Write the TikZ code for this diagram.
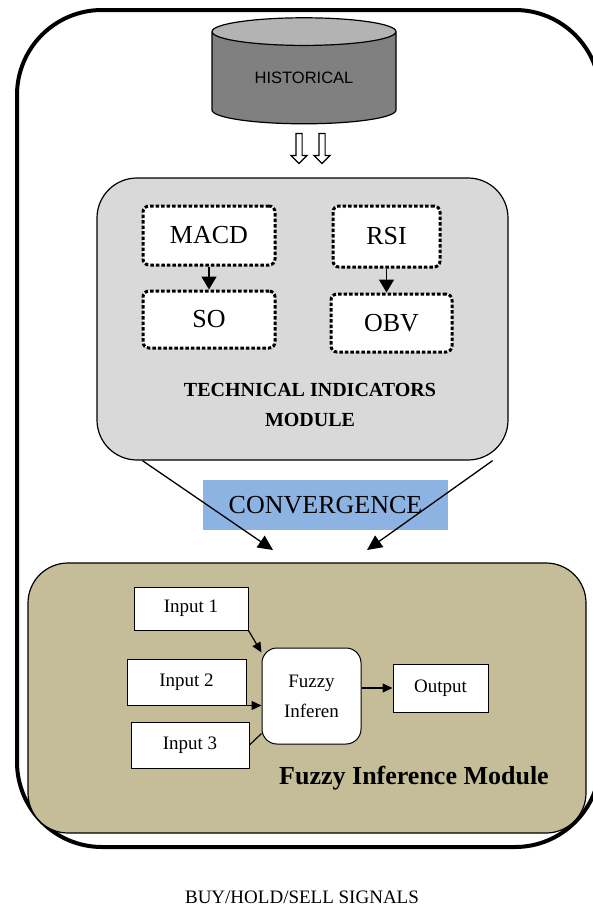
\documentclass[tikz,border=0pt]{standalone}
\usepackage{fontspec}
\setmainfont{Liberation Serif}
\newfontfamily\histfont{Liberation Sans}
\usepackage{xcolor}
\usepackage{tikz}
\usetikzlibrary{shapes.geometric}
\usetikzlibrary{shapes.arrows}
\usetikzlibrary{arrows.meta}
\definecolor{tiGray}{HTML}{D9D9D9}
\definecolor{fimTan}{HTML}{C4BD97}
\definecolor{convBlue}{HTML}{8DB3E2}
\definecolor{dbBody}{HTML}{808080}
\definecolor{dbTop}{HTML}{B3B3B3}

\begin{document}
\begin{tikzpicture}[x=1pt, y=-1pt,
	module/.style={draw, line width=1.2pt, rounded corners=40pt},
	indbox/.style={draw, fill=white, line width=3pt, dash pattern=on 3.5pt off 2pt, rounded corners=6pt, font=\fontsize{26}{30}\selectfont},
	plainbox/.style={draw, fill=white, line width=1pt, font=\fontsize{19}{22}\selectfont},
	hollow/.style={single arrow, draw, fill=white, line width=1.2pt, shape border rotate=270, minimum height=30pt, minimum width=0pt, single arrow head extend=5pt, inner sep=2.5pt},
	drop/.style={-{Triangle[length=13pt,width=15pt]}, line width=1.5pt},
	conv/.style={-{Triangle[length=15pt,width=14pt]}, line width=1.3pt},
	link/.style={-{Triangle[length=10pt,width=9pt]}, line width=1.2pt}]
	\useasboundingbox (0,0) rectangle (593,910);
	\draw[line width=4pt, rounded corners=85pt] (17,10) rectangle (600,847);
	% data source
	\node[cylinder, shape border rotate=90, aspect=0.28, draw, line width=1.2pt, cylinder uses custom fill, cylinder body fill=dbBody, cylinder end fill=dbTop, minimum width=184pt, minimum height=106pt, inner sep=0pt, font=\histfont\fontsize{16.5}{18}\selectfont] (hist) at (304,78) {HISTORICAL};
	\foreach \x in {299,322}
		\node[hollow] (h\x) at (\x,147) {};
	% technical indicators
	\node[module, fill=tiGray, minimum width=411pt, minimum height=282pt] (tim) at (302.5,319) {};
	\node[indbox, minimum width=132pt, minimum height=59pt] (macd) at (209,235.5) {MACD};
	\node[indbox, minimum width=132pt, minimum height=57pt] (so) at (209,319.5) {SO};
	\node[indbox, minimum width=107pt, minimum height=61pt] (rsi) at (386.5,236.5) {RSI};
	\node[indbox, minimum width=121pt, minimum height=58pt] (obv) at (391.5,323) {OBV};
	\node[font=\bfseries\fontsize{20}{30}\selectfont, align=center] (timlabel) at (310,405) {TECHNICAL INDICATORS\\MODULE};
	\draw[drop] (macd) -- (so);
	\draw[drop] (rsi.south) -- (rsi.south |- obv.north);
	% convergence
	\node[fill=convBlue, minimum width=245pt, minimum height=50pt, font=\fontsize{26}{30}\selectfont] (conv) at (325.5,505) {CONVERGENCE};
	\coordinate (tipL) at (273,550);
	\coordinate (tipR) at (367,550);
	\draw[conv] ([xshift=46pt]tim.south west) -- (tipL);
	\draw[conv] ([xshift=-16pt]tim.south east) -- (tipR);
	% fuzzy inference
	\node[module, fill=fimTan, minimum width=558pt, minimum height=270pt] (fim) at (307,698) {};
	\node[plainbox, minimum width=114pt, minimum height=43pt] (in1) at (191,608.5) {Input 1};
	\node[plainbox, minimum width=119pt, minimum height=46pt] (in2) at (186.5,682) {Input 2};
	\node[plainbox, minimum width=118pt, minimum height=46pt] (in3) at (190,745) {Input 3};
	\node[plainbox, rounded corners=15pt, minimum width=99pt, minimum height=96pt, align=center, font=\fontsize{19}{30}\selectfont] (fuz) at (311.5,696) {Fuzzy\\Inferen};
	\node[plainbox, minimum width=95pt, minimum height=48pt] (out) at (440.5,688) {Output};
	\node[font=\bfseries\fontsize{26}{30}\selectfont] (fimlabel) at (414,778) {Fuzzy Inference Module};
	\draw[link] (in1.south east) -- ([yshift=-5pt]fuz.north west);
	\draw[link] (in2.south east) -- (in2.south east -| fuz.west);
	\draw[line width=1.2pt] (in3.east) -- ([yshift=11pt]fuz.south west);
	\draw[link] (fuz.east |- out.west) -- (out.west);
	\node[font=\fontsize{19}{22}\selectfont] (signals) at (302,897) {BUY/HOLD/SELL SIGNALS};
\end{tikzpicture}
\end{document}
